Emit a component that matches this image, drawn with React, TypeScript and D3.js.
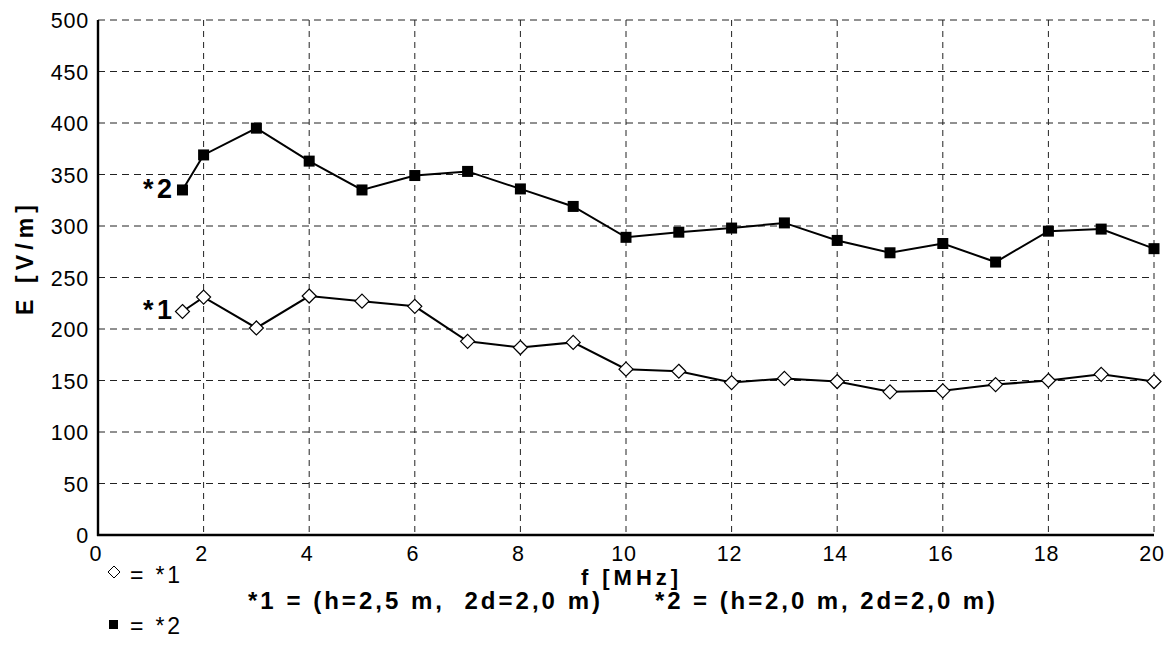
import React from "react";
import * as d3 from "d3";

const freqs = [1.6, 2, 3, 4, 5, 6, 7, 8, 9, 10, 11, 12, 13, 14, 15, 16, 17, 18, 19, 20];
const series1 = [217, 231, 201, 232, 227, 222, 188, 182, 187, 161, 159, 148, 152, 149, 139, 140, 146, 150, 156, 149];
const series2 = [335, 369, 395, 363, 335, 349, 353, 336, 319, 289, 294, 298, 303, 286, 274, 283, 265, 295, 297, 278];
const xTicks = [0, 2, 4, 6, 8, 10, 12, 14, 16, 18, 20];
const yTicks = [0, 50, 100, 150, 200, 250, 300, 350, 400, 450, 500];

const W = 1174;
const H = 648;
const L = 98, R = 1154, T = 20, B = 535;
const font = "'Liberation Sans', Arial, sans-serif";

export default function App() {
  const x = d3.scaleLinear().domain([0, 20]).range([L, R]);
  const y = d3.scaleLinear().domain([0, 500]).range([B, T]);
  const line = d3.line<number>().x((_, i) => x(freqs[i])).y((d) => y(d));

  return (
    <svg width={W} height={H} style={{ position: "absolute", left: 0, top: 0, background: "#fff" }} fontFamily={font}>
      <rect width={W} height={H} fill="#fff" />
      {/* grid */}
      {yTicks.filter((t) => t > 0).map((t) => (
        <line key={"gy" + t} x1={L} x2={R} y1={y(t)} y2={y(t)} stroke="#222" strokeWidth={1} strokeDasharray="7,5" />
      ))}
      {xTicks.filter((t) => t > 0).map((t) => (
        <line key={"gx" + t} x1={x(t)} x2={x(t)} y1={T} y2={B} stroke="#222" strokeWidth={1} strokeDasharray="6,5" />
      ))}
      {/* axes */}
      <line x1={L} x2={L} y1={T} y2={B + 1} stroke="#000" strokeWidth={2.4} />
      <line x1={L - 1} x2={R} y1={B} y2={B} stroke="#000" strokeWidth={2.4} />
      {yTicks.map((t) => (
        <text key={"ty" + t} x={L - 9} y={y(t) + 1} textAnchor="end" dominantBaseline="central" fontSize={21.5} letterSpacing={0.8}>{t}</text>
      ))}
      {xTicks.map((t) => (
        <text key={"tx" + t} x={x(t) - 2} y={B + 19} textAnchor="middle" dominantBaseline="central" fontSize={21.5} letterSpacing={0.8}>{t}</text>
      ))}
      {/* axis titles */}
      <text x={581} y={577} dominantBaseline="central" fontSize={22} fontWeight="bold" textLength={97} lengthAdjust="spacing">f [MHz]</text>
      <text transform={`translate(25, 315) rotate(-90)`} dominantBaseline="central" fontSize={23} fontWeight="bold" textLength={110} lengthAdjust="spacing">E [V/m]</text>
      {/* lines */}
      <path d={line(series2) || ""} fill="none" stroke="#000" strokeWidth={2} />
      <path d={line(series1) || ""} fill="none" stroke="#000" strokeWidth={2} />
      {series2.map((v, i) => (
        <rect key={"s2" + i} x={x(freqs[i]) - 5.5} y={y(v) - 5.5} width={11} height={11} fill="#000" />
      ))}
      {series1.map((v, i) => {
        const cx = x(freqs[i]), cy = y(v);
        return (
          <path key={"s1" + i} d={`M${cx},${cy - 7}L${cx + 7},${cy}L${cx},${cy + 7}L${cx - 7},${cy}Z`} fill="#fff" stroke="#000" strokeWidth={1.2} />
        );
      })}
      {/* series labels */}
      <text x={143} y={189} dominantBaseline="central" fontSize={27} fontWeight="bold" textLength={29} lengthAdjust="spacing">*2</text>
      <text x={143} y={310} dominantBaseline="central" fontSize={27} fontWeight="bold" textLength={29} lengthAdjust="spacing">*1</text>
      {/* legend */}
      <path d="M114,566L120,572L114,578L108,572Z" fill="#fff" stroke="#000" strokeWidth={1} />
      <text x={130} y={575} dominantBaseline="central" fontSize={23} textLength={50} lengthAdjust="spacing">= *1</text>
      <rect x={109} y={620} width={9} height={9} fill="#000" />
      <text x={130} y={626} dominantBaseline="central" fontSize={23} textLength={50} lengthAdjust="spacing">= *2</text>
      <text x={248} y={600} dominantBaseline="central" fontSize={24} fontWeight="bold" textLength={352} lengthAdjust="spacing" style={{ whiteSpace: "pre" }}>{"*1 = (h=2,5 m,  2d=2,0 m)"}</text>
      <text x={655} y={600} dominantBaseline="central" fontSize={24} fontWeight="bold" textLength={340} lengthAdjust="spacing" style={{ whiteSpace: "pre" }}>{"*2 = (h=2,0 m, 2d=2,0 m)"}</text>
    </svg>
  );
}
